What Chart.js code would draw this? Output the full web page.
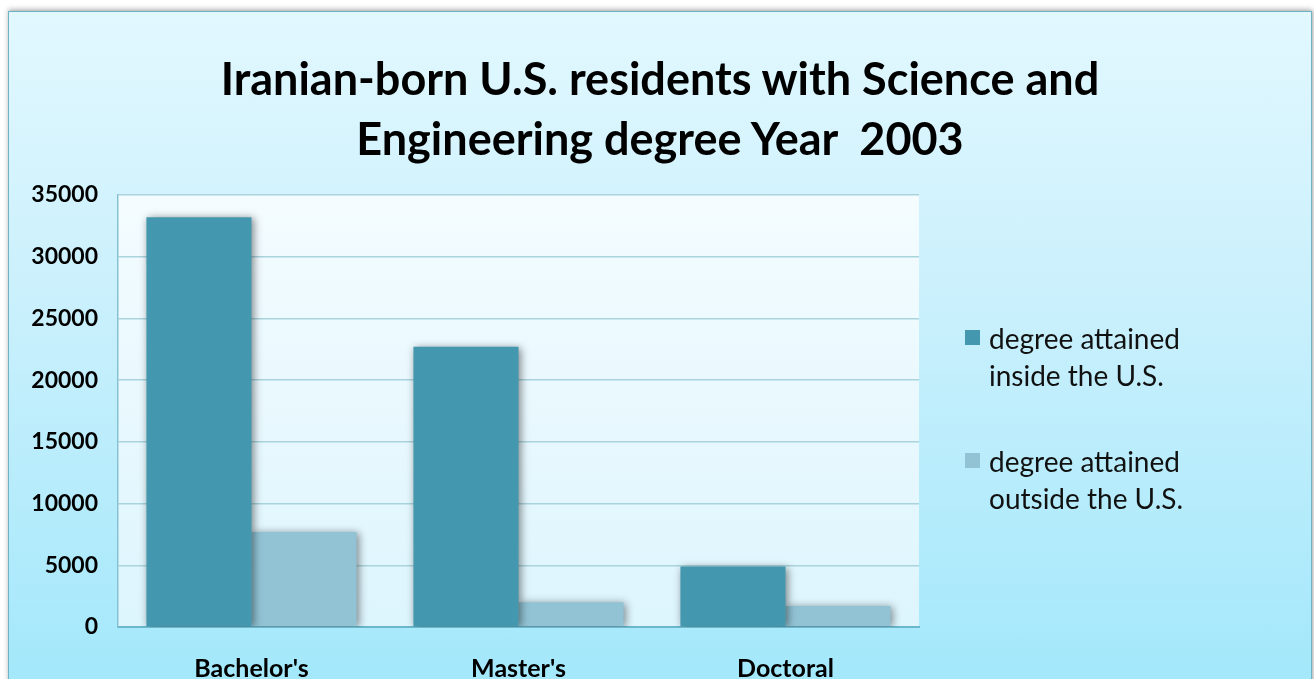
<!DOCTYPE html>
<html>
<head>
<meta charset="utf-8">
<script src="https://cdn.jsdelivr.net/npm/chart.js@4.4.1/dist/chart.umd.min.js"></script>
<style>
  html, body { margin: 0; padding: 0; background: #ffffff; overflow: hidden; }
  #frame {
    position: absolute; left: 8px; top: 11px; width: 1302px; height: 720px;
    border: 1px solid #6fb2c4;
    background: linear-gradient(to bottom, #e2f8ff 0px, #c6effc 330px, #a3e8fb 668px);
    box-shadow: 0 -2px 5px rgba(0,0,0,0.25), 2px 0 3px rgba(0,0,0,0.15);
  }
  #wrap { position: absolute; left: 0; top: 0; width: 1302px; height: 712px; }
  #title {
    position: absolute; left: 0; top: 36px; width: 1302px; text-align: center; white-space: pre;
    font-family: Lato, sans-serif; font-weight: bold; font-size: 45px; line-height: 60px; color: #000;
  }
  #legend {
    position: absolute; left: 956px; top: 308px;
    font-family: Lato, "Open Sans", sans-serif; font-size: 28px; color: #111;
  }
  .item { position: relative; padding-left: 24px; line-height: 37px; margin-bottom: 49px; }
  .item span.box { position: absolute; left: 0; top: 10px; width: 15px; height: 15px; }
</style>
</head>
<body>
<div id="frame">
  <div id="wrap"><canvas id="myChart"></canvas></div>
  <div id="title"></div>
  <div id="legend"></div>
</div>
<script>
const titleLines = ["Iranian-born U.S. residents with Science and", "Engineering degree Year  2003"];
const categories = ["Bachelor's", "Master's", "Doctoral"];
const seriesNames = [["degree attained", "inside the U.S."], ["degree attained", "outside the U.S."]];
const insideUS = [33200, 22700, 4900];
const outsideUS = [7700, 2000, 1700];
const yTicks = [0, 5000, 10000, 15000, 20000, 25000, 30000, 35000];
const colors = ["#4397ae", "#92c3d5"];

// plot area background + bar shadows
const areaBg = {
    id: "areaBg",
    beforeDraw(chart) {
        const a = chart.chartArea;
        const ctx = chart.ctx;
        const g = ctx.createLinearGradient(0, a.top, 0, a.bottom);
        g.addColorStop(0, "#f4fcff");
        g.addColorStop(1, "#ddf5fd");
        ctx.save();
        ctx.fillStyle = g;
        ctx.fillRect(a.left, a.top, a.right - a.left, a.bottom - a.top);
        ctx.restore();
    },
    beforeDatasetsDraw(chart) {
        const ctx = chart.ctx;
        ctx.save();
        ctx.shadowColor = "rgba(0,0,0,0.45)";
        ctx.shadowBlur = 8;
        ctx.shadowOffsetX = 2;
        ctx.shadowOffsetY = 1;
    },
    afterDatasetsDraw(chart) {
        chart.ctx.restore();
    }
};

var ctx = document.getElementById("myChart").getContext("2d");
var myChart = new Chart(ctx, {
    type: "bar",
    data: {
        labels: categories,
        datasets: [
            { label: seriesNames[0].join(" "), data: insideUS, backgroundColor: colors[0], borderWidth: 0 },
            { label: seriesNames[1].join(" "), data: outsideUS, backgroundColor: colors[1], borderWidth: 0 }
        ]
    },
    plugins: [areaBg],
    options: {
        responsive: true,
        maintainAspectRatio: false,
        animation: false,
        datasets: { bar: { categoryPercentage: 0.787, barPercentage: 1.0 } },
        layout: { padding: { left: 9, right: 392, top: 183, bottom: 13 } },
        plugins: {
            legend: { display: false },
            tooltip: { enabled: false },
            title: { display: false }
        },
        scales: {
            x: {
                grid: { display: false, drawTicks: false },
                border: { color: "#6bb8cc", width: 2 },
                ticks: { color: "#000", padding: 27, font: { family: "Lato", size: 25, weight: "bold" } }
            },
            y: {
                min: 0, max: 35000,
                afterBuildTicks(scale) { scale.ticks = yTicks.map(v => ({ value: v })); },
                afterFit(scale) { scale.width = 100; },
                grid: { color: "#a9d3dd", lineWidth: 1.5, drawTicks: false },
                border: { color: "#86c2d2", width: 1.5 },
                ticks: {
                    color: "#000", padding: 20,
                    font: { family: "Lato", size: 23, weight: "bold" },
                    callback: v => String(v)
                }
            }
        }
    }
});

document.getElementById("title").textContent = titleLines.join("\n");

// legend
const legendEl = document.getElementById("legend");
seriesNames.forEach((lines, i) => {
    const item = document.createElement("div");
    item.className = "item";
    item.innerHTML = '<span class="box" style="background:' + colors[i] + '"></span>' + lines.join("<br>");
    legendEl.appendChild(item);
});
</script>
</body>
</html>
